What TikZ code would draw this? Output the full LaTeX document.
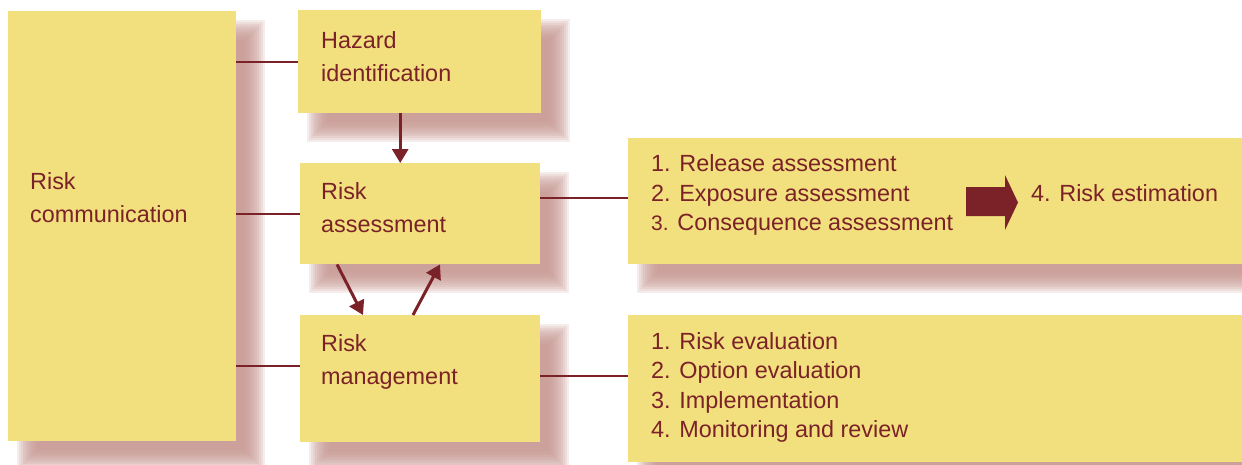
\documentclass[tikz,border=0pt]{standalone}
\usepackage{fontspec}
\setmainfont{Liberation Sans}
\usetikzlibrary{backgrounds,arrows.meta,calc}
\definecolor{boxy}{RGB}{242,224,126}
\definecolor{txt}{RGB}{123,34,40}
\definecolor{shad}{RGB}{196,147,141}
\tikzset{
  box/.style={fill=boxy, inner sep=0pt, anchor=north west},
  lbl/.style={text=txt, anchor=base west, inner sep=0pt, align=left, font=\fontsize{23.4pt}{32.5pt}\selectfont},
  lst/.style={lbl, font=\fontsize{23.4pt}{29.5pt}\selectfont},
  conn/.style={draw=txt, line width=1.6pt},
  arr/.style={draw=txt, line width=3pt, -{Triangle[length=14pt,width=16pt]}},
}
\begin{document}
\begin{tikzpicture}[x=1pt,y=-1pt]
\useasboundingbox (0,0) rectangle (1242,464);
% boxes
\node[box, minimum width=228pt, minimum height=430pt] (comm) at (8,11) {};
\node[box, minimum width=243pt, minimum height=103pt] (hz) at (298,10) {};
\node[box, minimum width=240pt, minimum height=101pt] (ra) at (300,163) {};
\node[box, minimum width=240pt, minimum height=127pt] (rm) at (300,315) {};
\node[box, minimum width=614pt, minimum height=126pt] (rt) at (628,138) {};
\node[box, minimum width=614pt, minimum height=147pt] (rb) at (628,315) {};
% shadows
\begin{pgfonlayer}{background}
\foreach \b in {comm,hz,ra,rm,rt,rb}{
  \foreach \e in {10,8,...,-10}{
    \fill[shad, opacity=0.17] ([shift={({19-(\e)},{19-(\e)})}]\b.north west) rectangle ([shift={({19+(\e)},{19+(\e)})}]\b.south east);
  }}
\end{pgfonlayer}
% texts (anchor = baseline of last line)
\node[lbl] (tcomm) at (30,222) {Risk\\communication};
\node[lbl] (thz) at (321,81) {Hazard\\identification};
\node[lbl] (tra) at (321,232) {Risk\\assessment};
\node[lbl] (trm) at (321,384) {Risk\\management};
\node[lst] (trt) at (651,230.5) {1. Release assessment\\2. Exposure assessment\\{\fontsize{21pt}{29.5pt}\selectfont 3.} Consequence assessment};
\node[lst] (trb) at (651,437.5) {1. Risk evaluation\\2. Option evaluation\\3. Implementation\\4. Monitoring and review};
\node[lbl] (test) at (1031,201) {4. Risk estimation};
% connectors
\coordinate (rmL) at ([yshift=12.5pt]rm.west);
\coordinate (raR) at ([yshift=15.5pt]ra.east);
\coordinate (rmR) at ([yshift=2.5pt]rm.east);
\draw[conn] (comm.east |- hz.west) -- (hz.west);
\draw[conn] (comm.east |- ra.west) -- (ra.west);
\draw[conn] (comm.east |- rmL) -- (rmL);
\draw[conn] (raR) -- (rt.west |- raR);
\draw[conn] (rmR) -- (rb.west |- rmR);
% arrows
\coordinate (hzS) at ([xshift=-19.5pt]hz.south);
\draw[arr] (hzS) -- (ra.north -| hzS);
\draw[arr] ([xshift=37pt]ra.south west) -- ([xshift=63pt]rm.north west);
\draw[arr] ([xshift=113pt]rm.north west) -- ([xshift=140pt]ra.south west);
% block arrow
\fill[txt] (966,187) -- (1005,187) -- (1005,175) -- (1018,202.5) -- (1005,230) -- (1005,216) -- (966,216) -- cycle;
\end{tikzpicture}
\end{document}
